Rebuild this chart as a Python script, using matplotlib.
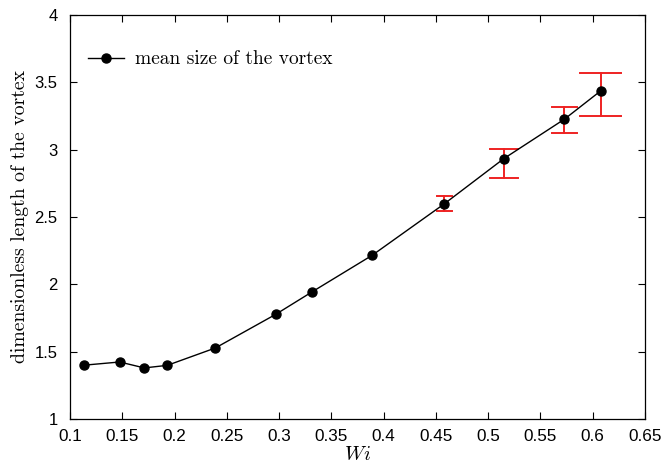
import numpy as np
import matplotlib
matplotlib.use('Agg')
import matplotlib.pyplot as plt

plt.rcParams['mathtext.fontset'] = 'cm'

# mean vortex size vs Weissenberg number
wi = [0.113, 0.1475, 0.171, 0.193, 0.239, 0.2966, 0.3314, 0.389, 0.458, 0.515, 0.573, 0.6075]
vortex = [1.399, 1.423, 1.379, 1.398, 1.527, 1.776, 1.943, 2.215, 2.597, 2.933, 3.226, 3.435]

# error bars only on the last four points
err_wi = [0.458, 0.515, 0.573, 0.6075]
err_low = [2.542, 2.788, 3.124, 3.251]
err_high = [2.659, 3.004, 3.318, 3.569]

xticks = [0.1, 0.15, 0.2, 0.25, 0.3, 0.35, 0.4, 0.45, 0.5, 0.55, 0.6, 0.65]
yticks = [1, 1.5, 2, 2.5, 3, 3.5, 4]

fig = plt.figure(figsize=(6.67, 4.65), dpi=100)
ax = fig.add_axes([0.105, 0.099, 0.862, 0.869])

# error bars (caps scale with the spread, like the original)
for x, lo, hi in zip(err_wi, err_low, err_high):
    half = 0.062 * (hi - lo)
    ax.plot([x, x], [lo, hi], color='#ee2222', lw=1.4, zorder=2)
    ax.plot([x - half, x + half], [lo, lo], color='#ee2222', lw=1.4, zorder=2)
    ax.plot([x - half, x + half], [hi, hi], color='#ee2222', lw=1.4, zorder=2)

ax.plot(wi, vortex, '-o', color='black', lw=1.0, markersize=6.5,
        label='mean size of the vortex', zorder=3)

ax.set_xlim(0.1, 0.65)
ax.set_ylim(1, 4)
ax.set_xticks(xticks)
ax.set_xticklabels(['0.1', '0.15', '0.2', '0.25', '0.3', '0.35', '0.4', '0.45',
                    '0.5', '0.55', '0.6', '0.65'], fontname='Liberation Sans', fontsize=12.3)
ax.set_yticks(yticks)
ax.set_yticklabels(['1', '1.5', '2', '2.5', '3', '3.5', '4'], fontname='Liberation Sans', fontsize=12)
ax.tick_params(direction='in', top=True, right=True, length=5, width=0.8)
ax.tick_params(axis='y', pad=9)
ax.tick_params(axis='x', pad=7)
for s in ax.spines.values():
    s.set_linewidth(0.9)

ax.set_xlabel('$Wi$', fontsize=14.5, labelpad=1)
ax.set_ylabel('dimensionless length of the vortex', fontname='cmr10', fontsize=14.2, labelpad=4)

ax.legend(loc='upper left', frameon=False, prop={'family': 'cmr10', 'size': 14},
          handlelength=1.9, handletextpad=0.55, bbox_to_anchor=(0.0, 0.955), borderaxespad=0.5)

fig.savefig('out.png', dpi=100)
